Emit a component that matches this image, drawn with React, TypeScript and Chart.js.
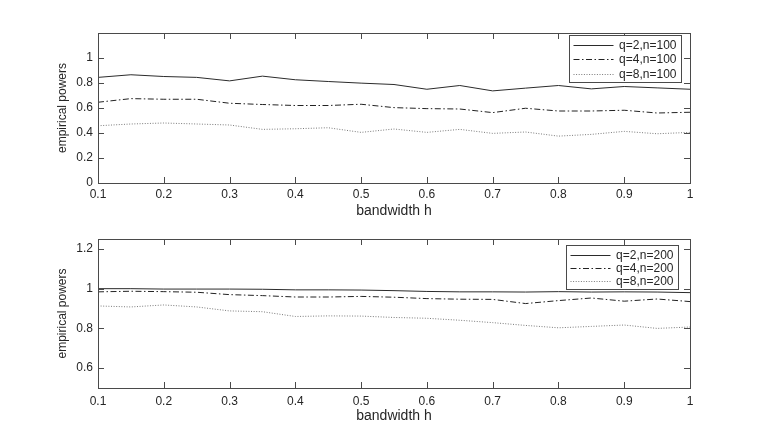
import React, { useEffect, useRef } from 'react';
import Chart from 'chart.js/auto';

// bandwidth grid h = 0.1 : 0.05 : 1
const bandwidth = [0.1, 0.15, 0.2, 0.25, 0.3, 0.35, 0.4, 0.45, 0.5, 0.55, 0.6, 0.65, 0.7, 0.75, 0.8, 0.85, 0.9, 0.95, 1];
const xTicks = [0.1, 0.2, 0.3, 0.4, 0.5, 0.6, 0.7, 0.8, 0.9, 1];
const yTicksN100 = [0, 0.2, 0.4, 0.6, 0.8, 1];
const yTicksN200 = [0.6, 0.8, 1, 1.2];

// n = 100
const powerQ2N100 = [0.845, 0.866, 0.852, 0.845, 0.817, 0.855, 0.826, 0.812, 0.799, 0.788, 0.75, 0.78, 0.737, 0.759, 0.78, 0.753, 0.772, 0.761, 0.75];
const powerQ4N100 = [0.646, 0.675, 0.67, 0.67, 0.638, 0.628, 0.62, 0.62, 0.63, 0.603, 0.595, 0.592, 0.563, 0.598, 0.576, 0.576, 0.582, 0.56, 0.566];
const powerQ8N100 = [0.458, 0.472, 0.48, 0.472, 0.464, 0.429, 0.434, 0.442, 0.405, 0.432, 0.405, 0.429, 0.397, 0.408, 0.375, 0.389, 0.413, 0.394, 0.405];
const labelsN100 = ['q=2,n=100', 'q=4,n=100', 'q=8,n=100'];

// n = 200
const powerQ2N200 = [1.0, 1.0, 0.998, 0.998, 0.998, 0.997, 0.994, 0.994, 0.993, 0.99, 0.986, 0.984, 0.984, 0.983, 0.985, 0.983, 0.984, 0.983, 0.98];
const powerQ4N200 = [0.984, 0.987, 0.985, 0.982, 0.97, 0.965, 0.958, 0.958, 0.961, 0.957, 0.95, 0.947, 0.946, 0.925, 0.94, 0.953, 0.937, 0.948, 0.935];
const powerQ8N200 = [0.913, 0.908, 0.918, 0.908, 0.888, 0.884, 0.86, 0.863, 0.862, 0.855, 0.851, 0.841, 0.829, 0.815, 0.803, 0.81, 0.817, 0.8, 0.807];
const labelsN200 = ['q=2,n=200', 'q=4,n=200', 'q=8,n=200'];

const FONT = "'Liberation Sans', Arial, Helvetica, sans-serif";
const TEXT = '#262626';
const AXIS = '#4a4a4a';
const lineColors = ['#2b2b2b', '#222222', '#7a7a7a'];
const lineDashes: number[][] = [[], [6, 2.5, 1.5, 2.5], [1, 1.6]];

const fmt = (v: number) => String(Number(v.toFixed(2)));

// MATLAB style box with inward ticks on all four sides
const boxTicks = {
  id: 'boxTicks',
  afterDatasetsDraw(chart: any) {
    const { ctx, chartArea } = chart;
    const { left, right, top, bottom } = chartArea;
    const xs = chart.scales.x;
    const ys = chart.scales.y;
    const len = 6;
    ctx.save();
    ctx.strokeStyle = AXIS;
    ctx.lineWidth = 1;
    ctx.setLineDash([]);
    ctx.beginPath();
    xs.ticks.forEach((t: any) => {
      const px = Math.round(xs.getPixelForValue(t.value)) + 0.5;
      ctx.moveTo(px, bottom);
      ctx.lineTo(px, bottom - len);
      ctx.moveTo(px, top);
      ctx.lineTo(px, top + len);
    });
    ys.ticks.forEach((t: any) => {
      const py = Math.round(ys.getPixelForValue(t.value)) + 0.5;
      ctx.moveTo(left, py);
      ctx.lineTo(left + len, py);
      ctx.moveTo(right, py);
      ctx.lineTo(right - len, py);
    });
    ctx.stroke();
    ctx.strokeRect(Math.round(left) + 0.5, Math.round(top) + 0.5, Math.round(right - left), Math.round(bottom - top));
    ctx.restore();
  },
};

interface PanelProps {
  series: number[][];
  labels: string[];
  yMin: number;
  yMax: number;
  yTicks: number[];
  padTop: number;
  padBottom: number;
  tickPad: number;
  legendTop: number;
  legendRight: number;
  legendHeight: number;
}

const W = 763;
const H = 218;

const Panel: React.FC<PanelProps> = (p) => {
  const canvasRef = useRef<HTMLCanvasElement>(null);

  useEffect(() => {
    if (!canvasRef.current) return;
    const ctx = canvasRef.current.getContext('2d');
    if (!ctx) return;

    const legendBox = {
      id: 'legendBox',
      afterDraw(chart: any) {
        const c = chart.ctx;
        const { right, top } = chart.chartArea;
        const bw = 112;
        const bx = Math.round(right - p.legendRight - bw) + 0.5;
        const by = Math.round(top + p.legendTop) + 0.5;
        const rowGap = (p.legendHeight - 18) / 2;
        c.save();
        c.fillStyle = '#ffffff';
        c.fillRect(bx, by, bw, p.legendHeight);
        c.strokeStyle = AXIS;
        c.lineWidth = 1;
        c.strokeRect(bx, by, bw, p.legendHeight);
        c.font = `12px ${FONT}`;
        c.textAlign = 'right';
        c.textBaseline = 'middle';
        chart.data.datasets.forEach((ds: any, i: number) => {
          const ry = Math.round(by + 9 + i * rowGap) + 0.5;
          c.strokeStyle = ds.borderColor;
          c.setLineDash(ds.borderDash);
          c.beginPath();
          c.moveTo(bx + 4, ry);
          c.lineTo(bx + 44, ry);
          c.stroke();
          c.fillStyle = TEXT;
          c.fillText(ds.label, bx + bw - 5, ry);
        });
        c.restore();
      },
    };

    const chart = new Chart(ctx, {
      type: 'line',
      data: {
        datasets: p.series.map((vals, i) => ({
          label: p.labels[i],
          data: bandwidth.map((x, j) => ({ x, y: vals[j] })),
          borderColor: lineColors[i],
          borderDash: lineDashes[i],
          borderWidth: 1,
          pointRadius: 0,
          tension: 0,
          fill: false,
        })),
      },
      options: {
        responsive: false,
        animation: false,
        devicePixelRatio: 1,
        layout: { padding: { top: p.padTop, right: 73, bottom: p.padBottom, left: 0 } },
        plugins: {
          legend: { display: false },
          tooltip: { enabled: false },
        },
        scales: {
          x: {
            type: 'linear',
            min: 0.1,
            max: 1,
            grid: { display: false, drawTicks: false },
            border: { display: false },
            afterBuildTicks: (s: any) => {
              s.ticks = xTicks.map((v) => ({ value: v }));
            },
            afterFit: (s: any) => {
              s.height = 35;
            },
            ticks: {
              padding: p.tickPad,
              color: TEXT,
              font: { family: FONT, size: 12 },
              maxRotation: 0,
              autoSkip: false,
              callback: (v: any) => fmt(Number(v)),
            },
            title: {
              display: true,
              text: 'bandwidth h',
              color: TEXT,
              font: { family: FONT, size: 14, lineHeight: 1 },
              padding: { top: 0, bottom: 0 },
            },
          },
          y: {
            type: 'linear',
            min: p.yMin,
            max: p.yMax,
            grid: { display: false, drawTicks: false },
            border: { display: false },
            afterBuildTicks: (s: any) => {
              s.ticks = p.yTicks.map((v) => ({ value: v }));
            },
            afterFit: (s: any) => {
              s.width = 98;
            },
            ticks: {
              padding: 5,
              color: TEXT,
              font: { family: FONT, size: 12 },
              autoSkip: false,
              callback: (v: any) => fmt(Number(v)),
            },
            title: {
              display: true,
              text: 'empirical powers',
              color: TEXT,
              font: { family: FONT, size: 12, lineHeight: 1 },
              padding: { top: 57, bottom: 0 },
            },
          },
        },
      },
      plugins: [boxTicks, legendBox],
    });

    return () => {
      chart.destroy();
    };
  }, [p]);

  return <canvas ref={canvasRef} width={W} height={H} style={{ display: 'block' }} />;
};

const top = {
  series: [powerQ2N100, powerQ4N100, powerQ8N100],
  labels: labelsN100,
  yMin: 0,
  yMax: 1.2,
  yTicks: yTicksN100,
  padTop: 33,
  padBottom: 0,
  tickPad: 4,
  legendTop: 2,
  legendRight: 9,
  legendHeight: 47,
};

const bottom = {
  series: [powerQ2N200, powerQ4N200, powerQ8N200],
  labels: labelsN200,
  yMin: 0.5,
  yMax: 1.25,
  yTicks: yTicksN200,
  padTop: 21,
  padBottom: 13,
  tickPad: 6,
  legendTop: 6,
  legendRight: 12,
  legendHeight: 44,
};

export default function App() {
  return (
    <div style={{ position: 'fixed', left: 0, top: 0, width: W, height: 436, background: '#fff' }}>
      <Panel {...top} />
      <Panel {...bottom} />
    </div>
  );
}
